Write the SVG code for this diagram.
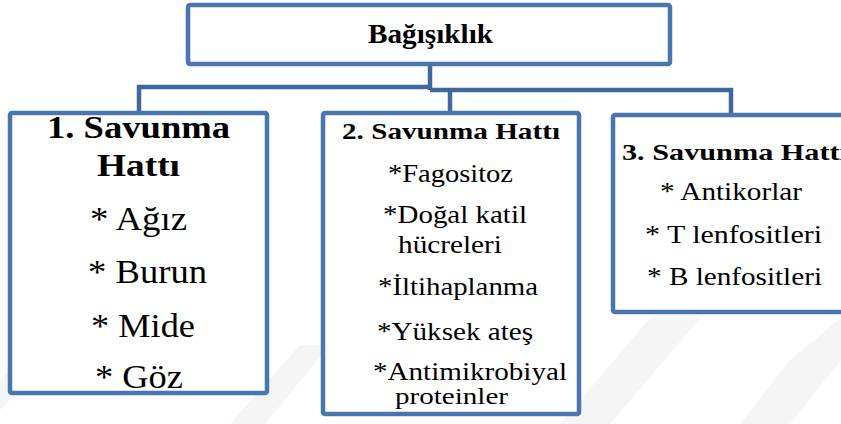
<svg xmlns="http://www.w3.org/2000/svg" width="841" height="424" viewBox="0 0 841 424">
<style>
.box{fill:#ffffff;stroke:#4a76b0;stroke-width:4.5}
.con{fill:none;stroke:#41689e;stroke-width:4.5;stroke-linejoin:miter}
.wm{fill:#f5f5f5}
text{font-family:"Liberation Serif","Times New Roman",serif;fill:#000000}
.b{font-weight:bold}
</style>
<rect width="841" height="424" fill="#ffffff"/>
<g id="watermark">
<polygon class="wm" points="0,424 0,380 40,340 70,340 0,410"/>
<polygon class="wm" points="230,424 300,345 330,345 265,424"/>
<polygon class="wm" points="560,424 650,318 700,318 610,424"/>
<polygon class="wm" points="740,424 790,360 841,318 841,360 790,424"/>
</g>
<g id="connectors">
<path class="con" d="M430,64 V90"/>
<path class="con" d="M139,113 V87 H432"/>
<path class="con" d="M430,90 H731 V115"/>
<path class="con" d="M450,90 V113"/>
</g>
<g id="node-root">
<rect class="box" x="188" y="5" width="482" height="59" rx="2"/>
<text class="b" x="368" y="43" font-size="28" textLength="125" lengthAdjust="spacingAndGlyphs">Bağışıklık</text>
</g>
<g id="node-1">
<rect class="box" x="10" y="113" width="257" height="280" rx="2"/>
<text class="b" x="47" y="138" font-size="32" textLength="183" lengthAdjust="spacingAndGlyphs">1. Savunma</text>
<text class="b" x="97" y="176" font-size="32" textLength="83" lengthAdjust="spacingAndGlyphs">Hattı</text>
<text x="90" y="230" font-size="34" textLength="97" lengthAdjust="spacingAndGlyphs">* Ağız</text>
<text x="88" y="283" font-size="34" textLength="119" lengthAdjust="spacingAndGlyphs">* Burun</text>
<text x="91" y="337" font-size="34" textLength="104" lengthAdjust="spacingAndGlyphs">* Mide</text>
<text x="95" y="388" font-size="34" textLength="88" lengthAdjust="spacingAndGlyphs">* Göz</text>
</g>
<g id="node-2">
<rect class="box" x="323" y="113" width="256" height="301" rx="2"/>
<text class="b" x="342" y="139" font-size="23" textLength="218" lengthAdjust="spacingAndGlyphs">2. Savunma Hattı</text>
<text x="388" y="182" font-size="25" textLength="125" lengthAdjust="spacingAndGlyphs">*Fagositoz</text>
<text x="383" y="223" font-size="25" textLength="144" lengthAdjust="spacingAndGlyphs">*Doğal katil</text>
<text x="398" y="253" font-size="25" textLength="104" lengthAdjust="spacingAndGlyphs">hücreleri</text>
<text x="378" y="295" font-size="25" textLength="160" lengthAdjust="spacingAndGlyphs">*İltihaplanma</text>
<text x="377" y="340" font-size="25" textLength="156" lengthAdjust="spacingAndGlyphs">*Yüksek ateş</text>
<text x="373" y="380" font-size="25" textLength="194" lengthAdjust="spacingAndGlyphs">*Antimikrobiyal</text>
<text x="395" y="404" font-size="24" textLength="113" lengthAdjust="spacingAndGlyphs">proteinler</text>
</g>
<g id="node-3">
<rect class="box" x="613" y="115" width="240" height="197" rx="2"/>
<text class="b" x="622" y="160" font-size="24" textLength="226" lengthAdjust="spacingAndGlyphs">3. Savunma Hattı</text>
<text x="660" y="200" font-size="25" textLength="142" lengthAdjust="spacingAndGlyphs">* Antikorlar</text>
<text x="645" y="243" font-size="25" textLength="177" lengthAdjust="spacingAndGlyphs">* T lenfositleri</text>
<text x="647" y="285" font-size="25" textLength="175" lengthAdjust="spacingAndGlyphs">* B lenfositleri</text>
</g>
</svg>
